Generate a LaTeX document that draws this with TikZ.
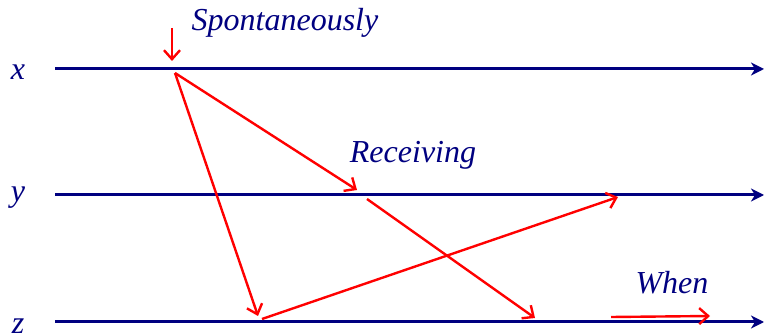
\documentclass[tikz,border=0pt]{standalone}
\usepackage{fontspec}
\setmainfont{Liberation Serif}
\usetikzlibrary{arrows.meta,positioning}
\definecolor{procline}{HTML}{000080}
\definecolor{msgred}{HTML}{FF0000}

\begin{document}
\begin{tikzpicture}[x=1pt,y=-1pt,
  lbl/.style={text=procline,font=\fontsize{32}{36}\selectfont\itshape,inner sep=0pt},
  proc/.style={-{Stealth[length=13pt,width=13pt,inset=4pt]},draw=procline,line width=3pt},
  msg/.style={-{Straight Barb[length=9pt,width=16pt]},draw=msgred,line width=2.4pt}
]
\useasboundingbox (0,0) rectangle (765,336);
% process labels
\node[lbl] (px) at (18,72) {x};
\node[lbl] (py) at (18,198) {y};
\node[lbl] (pz) at (18,326) {z};
% time lines
\coordinate (xs) at (55,69);
\coordinate (xe) at (764,69);
\coordinate (ys) at (55,195);
\coordinate (ye) at (764,195);
\coordinate (zs) at (55,322);
\coordinate (ze) at (764,322);
\draw[proc] (xs) -- (xe);
\draw[proc] (ys) -- (ye);
\draw[proc] (zs) -- (ze);
% events
\coordinate (spon) at (172,28);
\coordinate (sponend) at (172,61);
\coordinate (xsend) at (175,73);
\coordinate (yrecv) at (357,190);
\coordinate (ysend) at (367,199);
\coordinate (zrecv) at (258,316);
\coordinate (zsend) at (262,319);
\coordinate (zlate) at (535,318);
\coordinate (ylate) at (618,197);
\coordinate (whens) at (611,317);
\coordinate (whene) at (710,316);
\draw[msg] (spon) -- (sponend);
\draw[msg] (xsend) -- (yrecv);
\draw[msg] (xsend) -- (zrecv);
\draw[msg] (ysend) -- (zlate);
\draw[msg] (zsend) -- (ylate);
\draw[msg] (whens) -- (whene);
% annotations
\node[lbl] (tspon) at (285,23) {Spontaneously};
\node[lbl] (trecv) at (413,155) {Receiving};
\node[lbl] (twhen) at (672,283) {When};
\end{tikzpicture}
\end{document}
